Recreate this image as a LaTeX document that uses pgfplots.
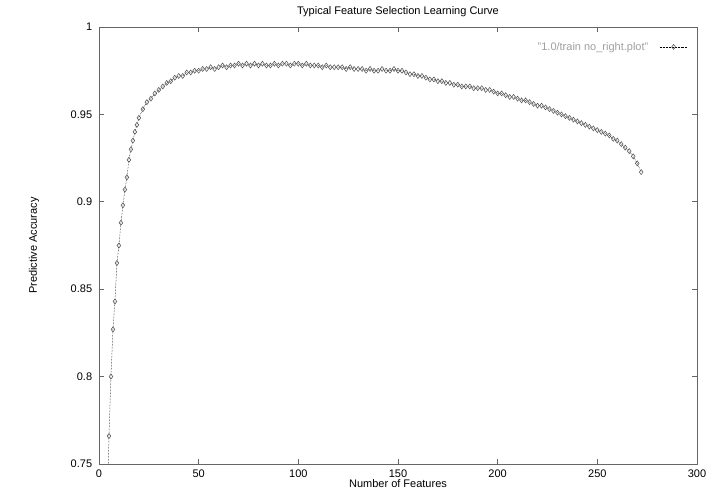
\documentclass[border=0pt]{standalone}
\usepackage{fontspec}
\setmainfont{Liberation Sans}
\usepackage{pgfplots}
\pgfplotsset{compat=1.18}
\definecolor{axisgray}{gray}{0.4}

\begin{document}
\fontsize{11bp}{13bp}\selectfont
\begin{tikzpicture}
\begin{axis}[
    name=ax,
    scale only axis,
    width=598bp, height=437bp,
    xmin=0, xmax=300, ymin=0.75, ymax=1,
    xtick={0,50,...,300},
    ytick={0.75,0.8,0.85,0.9,0.95,1},
    yticklabels={0.75,0.8,0.85,0.9,0.95,1},
    /pgf/number format/assume math mode=true,
    tick label style={font=\fontsize{11bp}{13bp}\selectfont},
    tick align=inside,
    major tick length=5bp,
    minor tick num=0,
    axis line style={axisgray, line width=0.8pt},
    every tick/.style={axisgray, line width=0.8pt},
    title={Typical Feature Selection Learning Curve},
    title style={yshift=0bp},
    xlabel={Number of Features},
    ylabel={Predictive Accuracy},
    xlabel style={yshift=6bp},
    ylabel style={yshift=24bp},
    xticklabel style={yshift=-2bp},
    yticklabel style={xshift=-3bp},
    legend style={draw=none, fill=none, at={(0.99,0.975)}, anchor=north east,
        font=\fontsize{11bp}{13bp}\selectfont\color{gray!75}},
    legend cell align=right,
    legend plot pos=right,
    legend image code/.code={
        \draw[#1, mark repeat=2, mark phase=2]
        plot coordinates {(0bp,0bp) (14bp,0bp) (28bp,0bp)};
    },
]
\addplot[black, densely dotted, line width=0.5pt,
    mark=diamond, mark size=2.5bp,
    mark options={solid, draw=gray!60!black, line width=0.5pt}] coordinates {
(4,0.72) (5,0.766) (6,0.800) (7,0.827) (8,0.843) (9,0.865) (10,0.875)
(11,0.888) (12,0.898) (13,0.907) (14,0.914) (15,0.924) (16,0.930)
(17,0.935) (18,0.940) (19,0.944) (20,0.948)
(22,0.953) (24,0.957) (26,0.959) (28,0.962) (30,0.964) (32,0.966)
(34,0.968) (36,0.969) (38,0.971) (40,0.972) (42,0.972) (44,0.974)
(46,0.974) (48,0.975) (50,0.975) (52,0.976) (54,0.976) (56,0.977)
(58,0.976) (60,0.977) (62,0.978) (64,0.977) (66,0.978) (68,0.978)
(70,0.979) (72,0.978) (74,0.979) (76,0.978) (78,0.979) (80,0.978)
(82,0.979) (84,0.978) (86,0.978) (88,0.979) (90,0.978) (92,0.979)
(94,0.979) (96,0.978) (98,0.979) (100,0.979) (102,0.978) (104,0.979)
(106,0.978) (108,0.978) (110,0.978) (112,0.977) (114,0.978) (116,0.977)
(118,0.977) (120,0.977) (122,0.977) (124,0.976) (126,0.977) (128,0.976)
(130,0.976) (132,0.976) (134,0.975) (136,0.976) (138,0.975) (140,0.975)
(142,0.976) (144,0.975) (146,0.975) (148,0.976) (150,0.975) (152,0.975)
(154,0.974) (156,0.973) (158,0.973) (160,0.972) (162,0.972) (164,0.971)
(166,0.970) (168,0.970) (170,0.969) (172,0.969) (174,0.968) (176,0.968)
(178,0.967) (180,0.967) (182,0.966) (184,0.966) (186,0.966) (188,0.965)
(190,0.965) (192,0.965) (194,0.964) (196,0.964) (198,0.963) (200,0.962)
(202,0.962) (204,0.961) (206,0.960) (208,0.960) (210,0.959) (212,0.958)
(214,0.958) (216,0.957) (218,0.956) (220,0.955) (222,0.955) (224,0.954)
(226,0.953) (228,0.952) (230,0.951) (232,0.950) (234,0.949) (236,0.948)
(238,0.947) (240,0.946) (242,0.945) (244,0.944) (246,0.943) (248,0.942)
(250,0.941) (252,0.940) (254,0.939) (256,0.938) (258,0.936) (260,0.935)
(262,0.933) (264,0.931) (266,0.929) (268,0.926) (270,0.922) (272,0.917)
};
\addlegendentry{"1.0/train no\_right.plot"\kern9bp}
\end{axis}
\pgfresetboundingbox
\path[use as bounding box] ([xshift=-99bp,yshift=-37bp]ax.south west) rectangle ([xshift=21bp,yshift=27bp]ax.north east);
\end{tikzpicture}
\end{document}
